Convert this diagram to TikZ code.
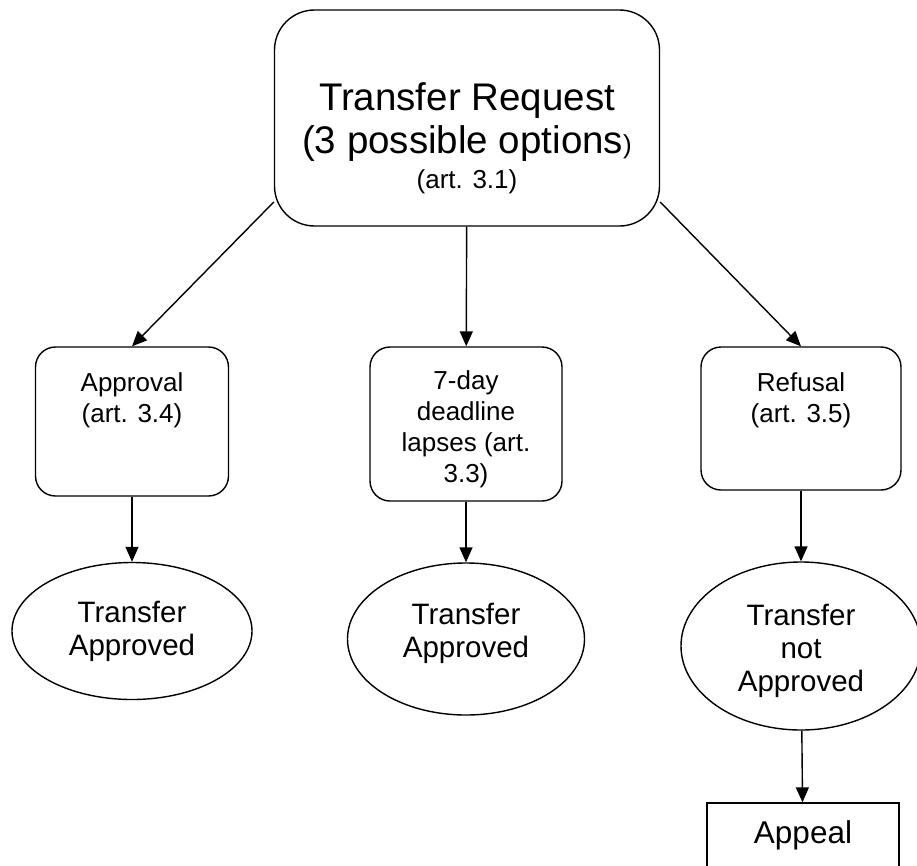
\documentclass[tikz,border=0pt]{standalone}
\usepackage{fontspec}
\setmainfont{Liberation Sans}
\usepackage{tikz}
\usetikzlibrary{arrows.meta}
\usetikzlibrary{shapes.geometric}
\usetikzlibrary{positioning}

\begin{document}
\begin{tikzpicture}[x=1pt,y=-1pt,line width=1.4pt,>={Triangle[length=15pt,width=13pt]}]
			\tikzstyle{option}=[draw, rounded corners=20pt, minimum width=193pt, inner sep=0pt, align=center, anchor=base, font=\fontsize{26}{31}\selectfont]
			\tikzstyle{result}=[draw, ellipse, inner sep=0pt, align=center, font=\fontsize{29.5}{33}\selectfont]
			\useasboundingbox (0,0) rectangle (917,865);
			\clip (0,0) rectangle (917,865);
			\node[draw, rounded corners=40pt, minimum width=385pt, inner sep=0pt, align=center, anchor=base, text height=178pt, text depth=38pt, font=\fontsize{38.5}{43}\selectfont] (request) at (467,188) {Transfer Request\\(3 possible options{\fontsize{26}{30}\selectfont )}\\[-8pt]{\fontsize{26}{30}\selectfont (art. 3.1)}};
			\node[option, text height=75pt, text depth=74pt] (approval) at (132,422) {Approval\\(art. 3.4)};
			\node[option, text height=135pt, text depth=19pt, minimum width=192pt] (deadline) at (466,482) {7-day\\deadline\\lapses (art.\\3.3)};
			\node[option, text height=75pt, text depth=68pt, minimum width=200pt] (refusal) at (801,422) {Refusal\\(art. 3.5)};
			\node[result, minimum width=240pt, minimum height=137pt] (ok1) at (132,631) {Transfer\\Approved};
			\node[result, minimum width=237pt, minimum height=152pt, text depth=18pt] (ok2) at (466,639) {Transfer\\Approved};
			\node[result, minimum width=240pt, minimum height=168pt, text height=97pt] (nok) at (801,646) {Transfer\\not\\Approved};
			\node[draw, minimum width=192pt, inner sep=0pt, anchor=base, text height=40pt, text depth=60pt, font=\fontsize{31.5}{36}\selectfont] (appeal) at (803,843) {Appeal};

			\coordinate (rq-left) at ([yshift=-84pt]request.west);
			\coordinate (rq-right) at ([yshift=-84pt]request.east);
			\draw[->] (rq-left) -- (approval.north);
			\draw[->] (request) -- (deadline);
			\draw[->] (rq-right) -- (refusal.north);
				\foreach \i/\j in {approval/ok1,deadline/ok2,refusal/nok,nok/appeal}{
					\draw[->] (\i) -- (\j);
					}
\end{tikzpicture}
\end{document}
